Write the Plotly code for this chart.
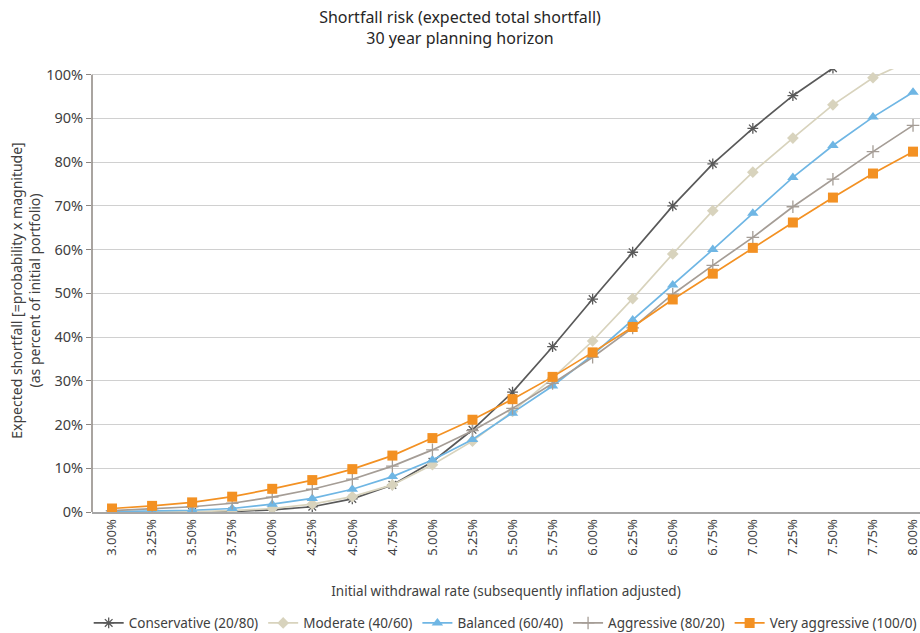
import plotly.graph_objects as go

rates = ["3.00%", "3.25%", "3.50%", "3.75%", "4.00%", "4.25%", "4.50%", "4.75%", "5.00%",
         "5.25%", "5.50%", "5.75%", "6.00%", "6.25%", "6.50%", "6.75%", "7.00%", "7.25%",
         "7.50%", "7.75%", "8.00%"]

conservative = [0.0, 0.0, 0.0, 0.1, 0.5, 1.2, 3.0, 6.2, 11.5, 18.8, 27.4, 37.8, 48.7, 59.4,
                70.0, 79.6, 87.7, 95.2, 101.5, 107.0, 112.0]
moderate = [0.0, 0.0, 0.1, 0.3, 0.8, 1.8, 3.5, 6.2, 10.8, 16.2, 23.0, 30.6, 39.1, 48.8,
            59.0, 68.9, 77.7, 85.5, 93.1, 99.3, 103.5]
balanced = [0.1, 0.2, 0.4, 0.8, 1.8, 3.1, 5.2, 8.1, 11.9, 16.6, 22.6, 28.8, 35.9, 43.9,
            51.9, 60.0, 68.3, 76.5, 83.8, 90.3, 96.0]
aggressive = [0.3, 0.7, 1.2, 2.0, 3.4, 5.2, 7.5, 10.5, 14.2, 18.6, 23.7, 29.4, 35.4, 42.1,
              49.8, 56.4, 62.8, 69.8, 76.1, 82.4, 88.4]
very_aggressive = [0.8, 1.4, 2.2, 3.5, 5.3, 7.3, 9.8, 12.9, 16.9, 21.1, 25.8, 30.9, 36.5, 42.3,
                   48.6, 54.5, 60.4, 66.2, 71.9, 77.4, 82.4]

series_names = ["Conservative (20/80)", "Moderate (40/60)", "Balanced (60/40)",
                "Aggressive (80/20)", "Very aggressive (100/0)"]

FONT = "Noto Sans"
TXT = "#404040"

fig = go.Figure()

styles = [
    (conservative, "#595959", dict(symbol="asterisk-open", size=9, line=dict(color="#595959", width=1.3))),
    (moderate, "#d8d3bd", dict(symbol="diamond", size=9, color="#d8d3bd", line=dict(width=0))),
    (balanced, "#6fb6e4", dict(symbol="triangle-up", size=10, color="#6fb6e4", line=dict(width=0))),
    (aggressive, "#a59d96", dict(symbol="cross-thin-open", size=9, line=dict(color="#a59d96", width=1.3))),
    (very_aggressive, "#f39123", dict(symbol="square", size=10, color="#f39123", line=dict(width=0))),
]

for name, (vals, col, mk) in zip(series_names, styles):
    fig.add_trace(go.Scatter(
        x=rates, y=vals, name=name, mode="lines+markers",
        line=dict(color=col, width=1.7),
        marker=mk,
    ))

fig.update_layout(
    width=920, height=633,
    margin=dict(l=92, r=0, t=69, b=121, autoexpand=False),
    paper_bgcolor="white", plot_bgcolor="white",
    font=dict(family=FONT, size=13, color=TXT),
    title=dict(
        text="Shortfall risk (expected total shortfall)<br>30 year planning horizon",
        x=0.5, xanchor="center", y=0.963, yanchor="top",
        font=dict(family=FONT, size=16, color="#262626"),
    ),
    showlegend=True,
    legend=dict(
        orientation="h", x=-0.004, xanchor="left", y=-0.216, yanchor="top",
        font=dict(family=FONT, size=13.5, color=TXT),
        itemwidth=30, tracegroupgap=0,
    ),
    xaxis=dict(
        type="category", range=[-0.5, 20.174],
        tickangle=-90, ticks="", showgrid=False,
        showline=True, linecolor="#a6a6a6", linewidth=2,
        tickfont=dict(family=FONT, size=13, color=TXT),
        title=dict(text="Initial withdrawal rate (subsequently inflation adjusted)",
                   font=dict(family=FONT, size=13.5, color=TXT), standoff=32),
        fixedrange=True,
    ),
    yaxis=dict(
        range=[0, 101.3], dtick=10, ticksuffix="%",
        showgrid=True, gridcolor="#d0d0d0", gridwidth=1,
        showline=False, zeroline=False,
        ticks="outside", ticklen=5, tickcolor="#8c8681",
        tickfont=dict(family=FONT, size=14.5, color=TXT),
        title=dict(text="Expected shortfall [=probability x magnitude]<br>(as percent of initial portfolio)",
                   font=dict(family=FONT, size=14, color=TXT), standoff=2),
        fixedrange=True,
    ),
)

# vertical axis line from 0% to 100%
fig.add_shape(type="line", xref="paper", yref="y", x0=0, x1=0, y0=0, y1=100,
              line=dict(color="#8c8681", width=1.5), layer="above")

fig.write_html("out.html", config={"displayModeBar": False},
               post_script="document.body.style.margin='0';document.body.style.padding='0';")
